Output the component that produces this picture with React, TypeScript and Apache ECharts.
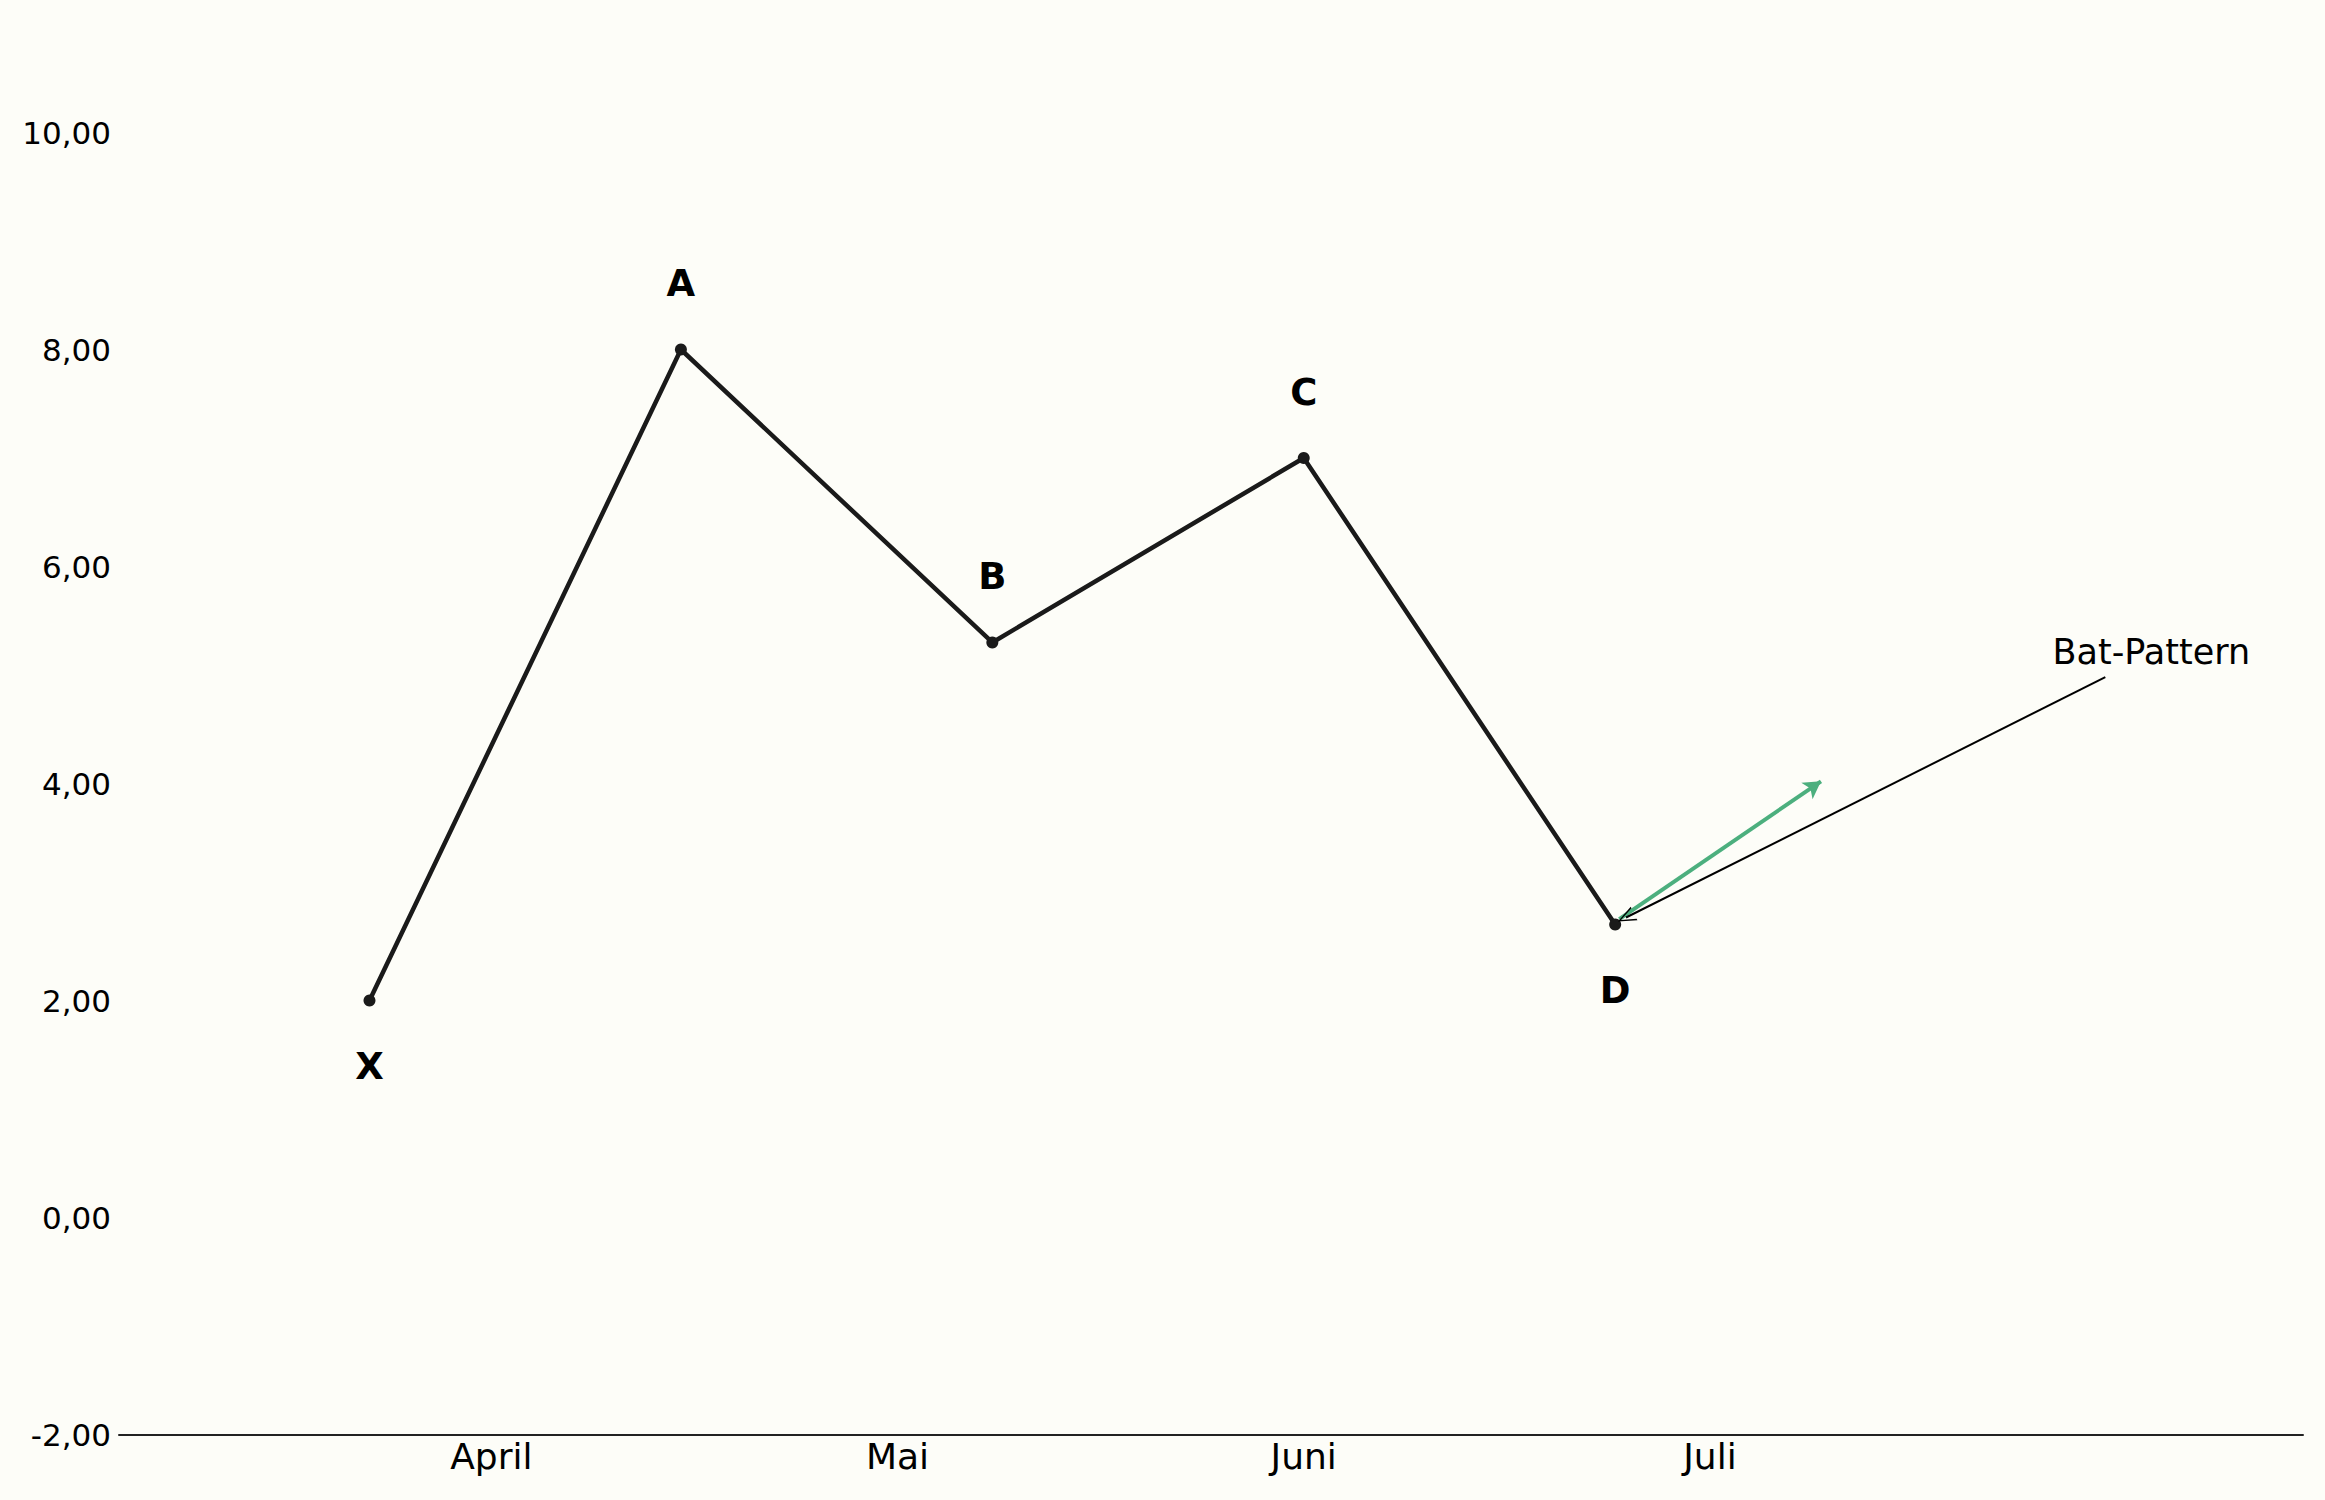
import React, { useEffect, useRef } from 'react';
import * as echarts from 'echarts';

// points of the pattern, x in days
const pointNames = ['X', 'A', 'B', 'C', 'D'];
const pointDays = [21, 44, 67, 90, 113];
const pointValues = [2.0, 8.0, 5.3, 7.0, 2.7];
const labelBelow = [true, false, false, false, true];

// month ticks on the x axis
const monthNames = ['April', 'Mai', 'Juni', 'Juli'];
const monthDays = [30, 60, 90, 120];

// y ticks
const yMin = -2;
const yMax = 10;
const yStep = 2;

// annotation
const noteText = 'Bat-Pattern';
const notePos = [152.6, 5.21];
const noteLineFrom = [149.2, 4.98];
const noteLineTo = [113.8, 2.765];
const greenFrom = [113.3, 2.75];
const greenTo = [128.2, 4.02];

const FONT = 'DejaVu Sans';
const INK = '#1a1a1a';
const GREEN = '#4caf7e';

export default function App() {
  const chartRef = useRef<HTMLDivElement>(null);

  useEffect(() => {
    if (!chartRef.current) return;
    const chart = echarts.init(chartRef.current, undefined, { renderer: 'svg' });

    const seriesData = pointDays.map((d, i) => ({
      value: [d, pointValues[i]],
      name: pointNames[i],
      label: {
        show: true,
        position: 'inside',
        offset: [0, labelBelow[i] ? 66 : -66],
        formatter: pointNames[i],
        fontFamily: FONT,
        fontWeight: 'bold',
        fontSize: 37,
        color: '#000',
      },
    }));

    const option = {
      animation: false,
      backgroundColor: '#fdfdf8',
      grid: { left: 119, right: 22, top: 132.5, bottom: 65.5 },
      xAxis: {
        type: 'value',
        min: 2.5,
        max: 163.8,
        axisLine: { show: true, onZero: false, lineStyle: { color: '#222', width: 2 } },
        axisTick: { show: false },
        splitLine: { show: false },
        axisLabel: {
          customValues: monthDays,
          formatter: (v: number) => monthNames[monthDays.indexOf(v)] ?? '',
          fontFamily: FONT,
          fontSize: 36,
          color: '#000',
          margin: 4,
        },
      },
      yAxis: {
        type: 'value',
        min: yMin,
        max: yMax,
        interval: yStep,
        axisLine: { show: false },
        axisTick: { show: false },
        splitLine: { show: false },
        axisLabel: {
          formatter: (v: number) => v.toFixed(2).replace('.', ','),
          fontFamily: FONT,
          fontSize: 31,
          color: '#000',
          margin: 8,
        },
      },
      series: [
        {
          type: 'line',
          data: seriesData,
          symbol: 'circle',
          symbolSize: 12,
          itemStyle: { color: INK },
          lineStyle: { color: INK, width: 4.5 },
          markLine: {
            silent: true,
            animation: false,
            label: { show: false },
            data: [
              [
                {
                  coord: greenFrom,
                  symbol: 'none',
                  lineStyle: { color: GREEN, width: 4, type: 'solid' },
                },
                { coord: greenTo, symbol: 'arrow', symbolSize: [15, 17] },
              ],
              [
                {
                  coord: noteLineFrom,
                  symbol: 'none',
                  lineStyle: { color: '#000', width: 2, type: 'solid' },
                },
                {
                  coord: noteLineTo,
                  symbol: 'path://M7,0 L14,16.6 L12.4,16.6 L7,3 L1.6,16.6 L0,16.6 Z',
                  symbolSize: [15, 18],
                  itemStyle: { color: '#000' },
                },
              ],
            ],
          },
          markPoint: {
            silent: true,
            symbol: 'circle',
            symbolSize: 1,
            itemStyle: { color: 'transparent' },
            data: [
              {
                coord: notePos,
                label: {
                  show: true,
                  position: 'inside',
                  formatter: noteText,
                  fontFamily: FONT,
                  fontSize: 35,
                  color: '#000',
                },
              },
            ],
          },
        },
      ],
    };

    chart.setOption(option as any);
    return () => chart.dispose();
  }, []);

  return (
    <div
      ref={chartRef}
      style={{ position: 'fixed', left: 0, top: 0, width: 2325, height: 1500 }}
    />
  );
}
